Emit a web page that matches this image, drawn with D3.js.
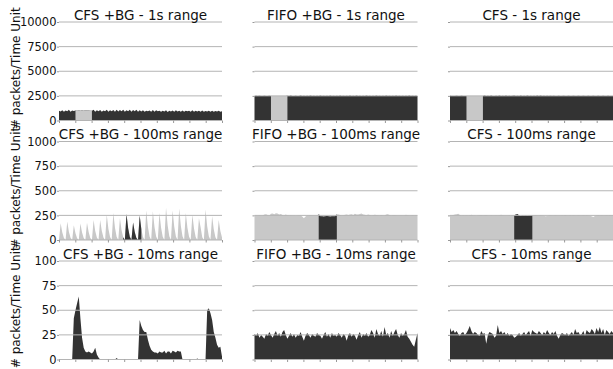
<!DOCTYPE html>
<html>
<head>
<meta charset="utf-8">
<script src="https://cdn.jsdelivr.net/npm/d3@7"></script>
<style>
  body { margin: 0; background: #fff; }
  text { font-family: "DejaVu Sans", sans-serif; fill: #111; }
</style>
</head>
<body>
<div id="chart"></div>
<script>
// panel titles, row by row
let titles = [
  ['CFS +BG - 1s range', 'FIFO +BG - 1s range', 'CFS - 1s range'],
  ['CFS +BG - 100ms range', 'FIFO +BG - 100ms range', 'CFS - 100ms range'],
  ['CFS +BG - 10ms range', 'FIFO +BG - 10ms range', 'CFS - 10ms range']
]

let yTicks1s = [0, 2500, 5000, 7500, 10000]
let yTicks100ms = [0, 250, 500, 750, 1000]
let yTicks10ms = [0, 25, 50, 75, 100]

let yLabel = '# packets/Time Unit'

// 1s range (packets per 10ms bin)
let cfsBg1s = [
  1000,920,1050,880,1020,940,1080,900,1010,960,
  1020,1000,1040,990,1030,1000,1050,1010,1020,1000,
  1000,1080,900,1040,930,1060,880,1020,950,1090,
  900,1050,940,1070,890,1100,920,1060,950,1080,
  880,1040,930,1100,900,1060,940,1080,900,1040,
  920,1050,890,1000,930,1020,900,1060,880,1030,
  940,1000,900,980,920,1040,870,1000,910,1020,
  880,1030,920,990,900,1020,890,1000,930,980,
  900,1040,880,1000,920,980,890,1010,900,970,
  910,1000,880,990,900,960,920,980,900,950]
let fifoBg1s = [
  2500,2510,2490,2520,2500,2480,2510,2500,2490,2505,
  2490,2500,2495,2500,2490,2500,2495,2500,2490,2500,
  2510,2500,2530,2490,2500,2520,2500,2490,2540,2500,
  2510,2490,2520,2500,2530,2490,2510,2500,2520,2490,
  2540,2500,2510,2490,2520,2500,2530,2490,2510,2500,
  2520,2490,2540,2500,2510,2490,2520,2500,2530,2490,
  2510,2500,2540,2490,2520,2500,2510,2490,2530,2500,
  2520,2490,2510,2500,2540,2490,2510,2500,2520,2490,
  2530,2500,2510,2490,2520,2500,2540,2490,2510,2500,
  2520,2490,2510,2500,2530,2490,2510,2500,2520,2500]
let cfs1s = [
  2510,2500,2490,2500,2520,2490,2500,2510,2490,2500,
  2500,2490,2500,2495,2500,2490,2500,2495,2500,2490,
  2500,2530,2490,2510,2500,2540,2490,2500,2520,2490,
  2530,2500,2510,2490,2540,2500,2520,2490,2510,2530,
  2490,2520,2500,2540,2490,2510,2500,2530,2490,2520,
  2500,2510,2490,2530,2500,2540,2490,2510,2500,2520,
  2490,2510,2500,2520,2490,2500,2510,2490,2500,2510,
  2490,2500,2510,2490,2500,2520,2490,2500,2510,2490,
  2500,2510,2490,2500,2520,2490,2500,2510,2490,2500,
  2510,2490,2500,2510,2490,2500,2510,2490,2500,2500]

// 100ms range (packets per 1ms bin)
let cfsBg100ms = [
  0,170,75,20, 0,187,85,22, 0,150,68,18, 0,168,75,20, 0,176,80,21,
  0,204,92,25, 0,204,92,25, 0,257,115,30, 0,275,124,33, 0,222,100,27,
  0,265,120,32, 0,178,80,21, 0,248,112,30, 0,300,135,36, 0,292,131,35,
  0,275,124,33, 0,327,147,39, 0,300,135,36, 0,320,144,38, 0,275,124,33,
  0,257,116,31, 0,222,130,27, 0,310,140,37, 0,240,108,29, 0,204,92,25]
let fifoBg100ms = [
  250,252,248,251,250,249,258,262,255,250,
  266,270,262,272,268,260,264,255,250,258,
  252,249,251,250,248,246,250,251,249,238,
  222,238,249,250,251,250,248,250,249,265,
  242,240,238,241,243,240,239,242,241,240,
  262,258,255,250,252,256,260,255,258,262,
  255,266,260,258,264,268,260,256,252,258,
  255,250,252,256,254,251,250,253,248,250,
  258,262,255,250,252,254,251,249,250,252,
  250,248,256,252,250,249,251,250,252,250]
let cfs100ms = [
  252,250,255,258,262,266,255,250,252,250,
  251,249,252,256,250,248,246,250,252,254,
  250,251,253,250,249,252,250,248,251,250,
  252,256,251,250,249,250,252,250,251,252,
  258,264,250,244,248,246,249,247,250,248,
  252,250,251,249,250,252,250,246,240,244,
  250,251,250,249,252,250,248,250,251,250,
  253,250,249,251,250,252,248,250,251,250,
  250,252,249,251,250,246,240,234,244,250,
  251,250,252,250,249,251,250,252,250,248]

// 10ms range (packets per 0.1ms bin)
let cfsBg10ms = [
  0,0,0,0,0,0,0,0,0,42,
  50,57,64,42,22,12,8,7,8,7,
  6,8,12,5,2,0,0,0,0,0,
  0,0,0,0,0,1.5,0,0,0,0,
  0,0,0,0,0,0,0,0,0,40,
  34,30,28,28,20,14,10,8,7,7,
  6,8,7,7,9,6,8,8,6,9,
  8,7,9,8,8,0,0,0,0,0,
  0,0,0,0,1,0,0,0,0,0,
  50,52,47,40,28,22,15,12,13,3]
let fifoBg10ms = [
  26,24,27,22,25,23,21,26,24,28,
  25,22,26,29,24,27,23,28,30,25,
  21,24,27,23,26,22,25,24,28,23,
  19,24,27,25,22,26,24,23,27,25,
  24,21,25,28,23,26,22,27,24,25,
  23,27,25,22,26,24,19,25,27,23,
  26,24,20,25,28,22,26,24,27,23,
  25,30,27,22,31,26,24,29,23,33,
  25,27,22,29,24,28,31,25,22,27,
  24,26,30,23,21,18,15,13,20,27]
let cfs10ms = [
  32,28,30,27,29,26,24,27,28,25,
  27,30,34,29,26,28,27,25,24,29,
  26,27,16,25,28,27,26,22,24,35,
  27,29,26,28,25,27,24,26,25,22,
  23,25,27,24,26,28,25,27,29,24,
  30,28,27,26,29,27,25,28,26,30,
  27,25,28,26,29,24,21,25,27,26,
  25,27,24,26,28,25,31,27,28,25,
  26,29,24,30,28,27,31,29,26,32,
  28,33,27,31,25,30,28,26,29,27]

// zoomed windows (start, end index) shown in the other shade
let window1s = [[10, 20], [10, 20], [10, 20]]
let window100ms = [[39, 50], [39, 50], [39, 50]]

let series = [
  [cfsBg1s, fifoBg1s, cfs1s],
  [cfsBg100ms, fifoBg100ms, cfs100ms],
  [cfsBg10ms, fifoBg10ms, cfs10ms]
]
let windows = [window1s, window100ms, [null, null, null]]
let yTicks = [yTicks1s, yTicks100ms, yTicks10ms]

let dark = '#333333',
    light = '#c8c8c8'
let baseColor = [dark, light, dark]
let windowColor = [light, dark, null]

let width = 613,
    height = 369
let colX = [59, 254.5, 450],
    rowY = [22, 141.5, 261],
    panelW = 163,
    panelH = 98.5

let svg = d3.select('#chart').append('svg')
    .attr('width', width)
    .attr('height', height)

series.forEach((row, r) => {
  let yMax = yTicks[r][yTicks[r].length - 1]

  // y label, one per row
  svg.append('text')
      .attr('transform', `translate(20,${rowY[r] + panelH / 2 - 3}) rotate(-90)`)
      .attr('text-anchor', 'middle')
      .style('font-size', '12px')
      .text(yLabel)

  row.forEach((values, c) => {
    let g = svg.append('g')
        .attr('transform', `translate(${colX[c]},${rowY[r]})`)

    let x = d3.scaleLinear()
        .domain([0, values.length - 1])
        .range([0, panelW])
    let y = d3.scaleLinear()
        .domain([0, yMax])
        .range([panelH, 0])

    let area = d3.area()
        .x(d => x(d[0]))
        .y0(y(0))
        .y1(d => y(d[1]))

    let pts = values.map((v, i) => [i, v])

    g.append('path')
        .datum(pts)
        .attr('fill', baseColor[r])
        .attr('d', area)

    let w = windows[r][c]
    if (w) {
      g.append('path')
          .datum(pts.slice(w[0], w[1] + 1))
          .attr('fill', windowColor[r])
          .attr('d', area)
    }

    // grid on top of the areas
    g.append('g')
        .selectAll('line')
        .data(yTicks[r])
        .enter().append('line')
        .attr('x1', 0)
        .attr('x2', panelW)
        .attr('y1', d => y(d))
        .attr('y2', d => y(d))
        .attr('stroke', '#b4b4b4')
        .attr('stroke-width', 1)

    let yAxis = d3.axisLeft(y)
        .tickValues(yTicks[r])
        .tickSize(2)
        .tickPadding(0.5)
        .tickFormat(c > 0 ? '' : d3.format('d'))
    let ya = g.append('g').call(yAxis)
    ya.select('.domain').remove()
    ya.selectAll('line').attr('stroke', '#999')
    ya.selectAll('text').style('font-size', '11.5px').attr('fill', '#111')

    let xAxis = d3.axisBottom(x)
        .tickValues(d3.range(0, 11).map(k => k * (values.length - 1) / 10))
        .tickSize(2.5)
        .tickFormat('')
    let xa = g.append('g')
        .attr('transform', `translate(0,${panelH})`)
        .call(xAxis)
    xa.select('.domain').remove()
    xa.selectAll('line').attr('stroke', '#999')

    g.append('text')
        .attr('x', panelW / 2)
        .attr('y', -2.5)
        .attr('text-anchor', 'middle')
        .style('font-size', '13.5px')
        .text(titles[r][c])
  })
})
</script>
</body>
</html>
